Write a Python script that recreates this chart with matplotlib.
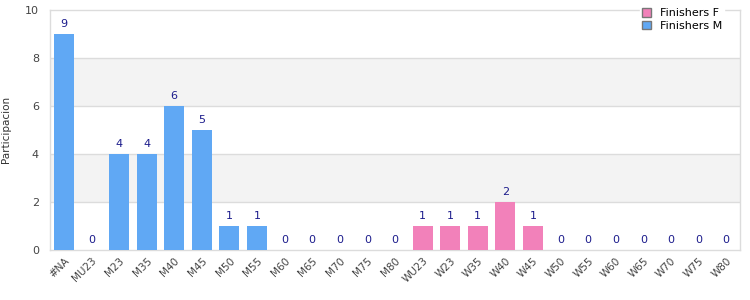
import matplotlib
matplotlib.use('Agg')
import matplotlib.pyplot as plt
import matplotlib.patches as mpatches
import numpy as np

categories = ["#NA", "MU23", "M23", "M35", "M40", "M45", "M50", "M55", "M60", "M65",
              "M70", "M75", "M80", "WU23", "W23", "W35", "W40", "W45", "W50", "W55",
              "W60", "W65", "W70", "W75", "W80"]
finishers_m = [9, 0, 4, 4, 6, 5, 1, 1, 0, 0, 0, 0, 0]
finishers_f = [1, 1, 1, 2, 1, 0, 0, 0, 0, 0, 0, 0]

C_M = "#60a8f4"
C_F = "#f281ba"
C_LBL = "#1c1c8c"
C_GRID = "#dcdcdc"

plt.rcParams["font.family"] = ["DejaVu Sans"]

fig = plt.figure(figsize=(7.5, 3), dpi=100)
ax = fig.add_axes([0.0667, 0.1667, 0.92, 0.8])

x = np.arange(len(categories))
xm = x[:len(finishers_m)]
xf = x[len(finishers_m):]
w = 0.72

# alternating bands
for lo in (2, 6):
    ax.axhspan(lo, lo + 2, color="#f3f3f3", zorder=0, lw=0)
for y in (2, 4, 6, 8):
    ax.axhline(y, color=C_GRID, lw=1, zorder=1)

ax.bar(xm, finishers_m, w, color=C_M, zorder=3)
ax.bar(xf, finishers_f, w, color=C_F, zorder=3)

for xs, vals in ((xm, finishers_m), (xf, finishers_f)):
    for xi, v in zip(xs, vals):
        ax.text(xi, v + 0.2, str(v), ha='center', va='bottom', fontsize=8, color=C_LBL)

ax.set_xlim(-0.5, len(categories) - 0.5)
ax.set_ylim(0, 10)
ax.set_yticks([0, 2, 4, 6, 8, 10])
ax.set_xticks(x)
ax.set_xticklabels(categories, rotation=45, ha='right', rotation_mode='anchor',
                   fontsize=7.5, color="#444444")
ax.tick_params(axis='y', labelsize=8, colors="#444444", length=0, pad=8)
ax.tick_params(axis='x', length=0, pad=4)
for s in ax.spines.values():
    s.set_color(C_GRID)
    s.set_linewidth(1)
fig.text(0.001, 0.57, "Participacion", rotation=90, fontsize=7.5, color="#333333",
         ha='left', va='center')

handles = [mpatches.Patch(facecolor=C_F, edgecolor="#777777", label="Finishers F"),
           mpatches.Patch(facecolor=C_M, edgecolor="#777777", label="Finishers M")]
leg = ax.legend(handles=handles, loc='upper right', bbox_to_anchor=(0.985, 1.04),
                fontsize=8, frameon=True, facecolor='white', edgecolor='white',
                framealpha=1, handlelength=0.8, handleheight=0.8, labelspacing=0.2,
                borderpad=0.2, handletextpad=0.8)
leg.set_zorder(5)

fig.savefig("out.png", dpi=100)
